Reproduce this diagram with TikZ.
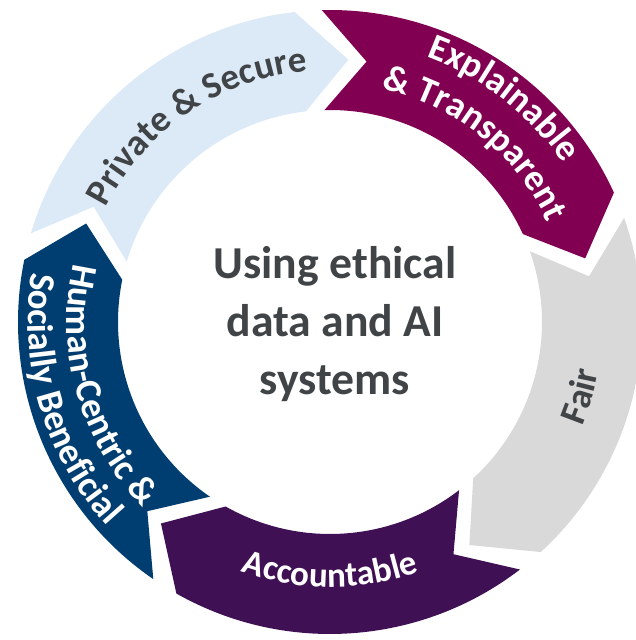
\documentclass[tikz,border=0pt]{standalone}
\usepackage{fontspec}
\setmainfont{Carlito}
\usetikzlibrary{decorations.text}
\definecolor{paleblue}{RGB}{220,234,248}
\definecolor{plum}{RGB}{130,0,82}
\definecolor{fairgray}{RGB}{217,217,217}
\definecolor{deeppurple}{RGB}{64,16,84}
\definecolor{navy}{RGB}{0,61,112}
\definecolor{inkgray}{RGB}{64,68,70}
\tikzset{
  label on arc/.style 2 args={decorate, decoration={text along path, text align=center, text color=#1, text={#2}}}
}
\begin{document}
\begin{tikzpicture}
  \useasboundingbox (0,0) rectangle (6.36,6.40);
  \begin{scope}[shift={(3.30,3.18)}]
    % ring of arrows, clockwise
    \fill[paleblue] (163.5:3.12) arc[start angle=163.5, end angle=96.5, radius=3.12] -- (86:2.63) -- (96.5:2.12) arc[start angle=96.5, end angle=163.5, radius=2.12] -- (154:2.63) -- cycle;
    \fill[plum] (91.5:3.12) arc[start angle=91.5, end angle=24.5, radius=3.12] -- (14:2.63) -- (24.5:2.12) arc[start angle=24.5, end angle=91.5, radius=2.12] -- (82:2.63) -- cycle;
    \fill[fairgray] (19.5:3.12) arc[start angle=19.5, end angle=-47.5, radius=3.12] -- (-58:2.63) -- (-47.5:2.12) arc[start angle=-47.5, end angle=19.5, radius=2.12] -- (10:2.63) -- cycle;
    \fill[deeppurple] (-52.5:3.12) arc[start angle=-52.5, end angle=-119.5, radius=3.12] -- (-130:2.63) -- (-119.5:2.12) arc[start angle=-119.5, end angle=-52.5, radius=2.12] -- (-62:2.63) -- cycle;
    \fill[navy] (235.5:3.12) arc[start angle=235.5, end angle=168.5, radius=3.12] -- (158:2.63) -- (168.5:2.12) arc[start angle=168.5, end angle=235.5, radius=2.12] -- (226:2.63) -- cycle;

    % labels along the ring
    \path[label on arc={inkgray}{|\fontsize{10.5}{12}\selectfont\bfseries|Private {\&} Secure}] (169:2.52) arc[start angle=169, end angle=79, radius=2.52];
    \path[label on arc={white}{|\fontsize{10.5}{12}\selectfont\bfseries|Explainable}] (92:2.82) arc[start angle=92, end angle=12, radius=2.82];
    \path[label on arc={white}{|\fontsize{10.5}{12}\selectfont\bfseries|{\&} Transparent}] (96:2.39) arc[start angle=96, end angle=6, radius=2.39];
    \path[label on arc={inkgray}{|\fontsize{10.5}{12}\selectfont\bfseries|Fair}] (-46.5:2.73) arc[start angle=-46.5, end angle=13.5, radius=2.73];
    \path[label on arc={white}{|\fontsize{10}{12}\selectfont\bfseries|Accountable}] (-130:2.65) arc[start angle=-130, end angle=-50, radius=2.65];
    \path[label on arc={white}{|\fontsize{10.5}{12}\selectfont\bfseries|Human-Centric {\&}}] (151:2.63) arc[start angle=151, end angle=241, radius=2.63];
    \path[label on arc={white}{|\fontsize{10.5}{12}\selectfont\bfseries|Socially Beneficial}] (156.5:3.02) arc[start angle=156.5, end angle=236.5, radius=3.02];
  \end{scope}

  \node[align=center, text=inkgray, font=\fontsize{13}{16.4}\selectfont\bfseries] (core) at (3.35,3.16) {Using ethical\\data and AI\\systems};
\end{tikzpicture}
\end{document}
